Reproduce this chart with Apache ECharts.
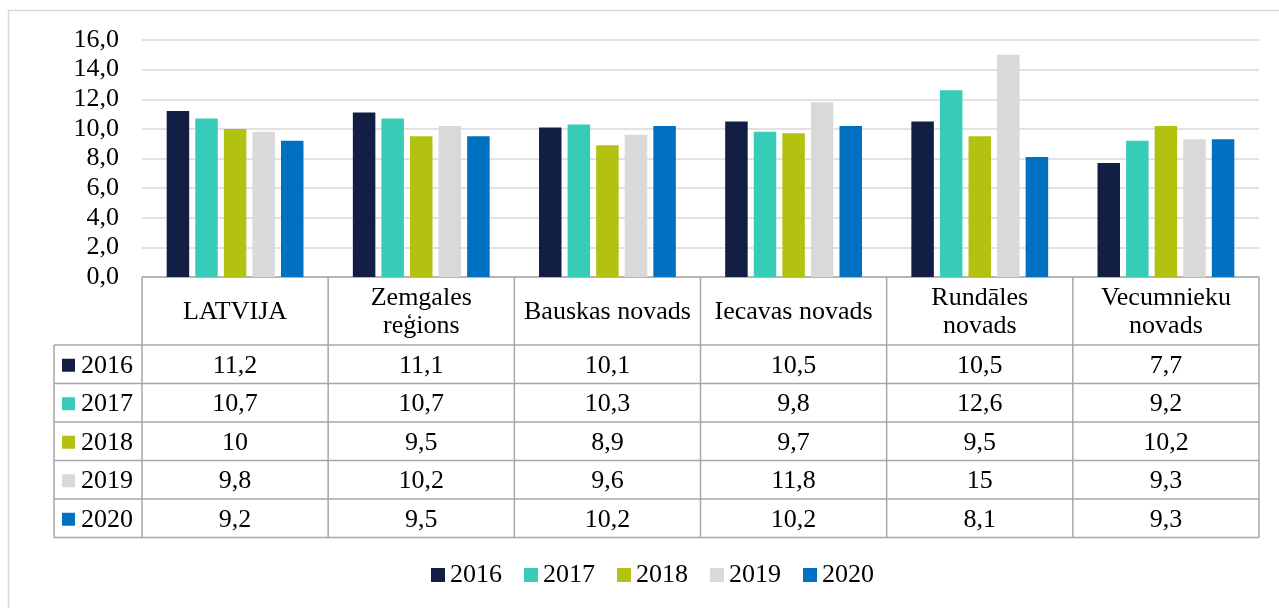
<!DOCTYPE html>
<html>
<head>
<meta charset="utf-8">
<script src="https://cdn.jsdelivr.net/npm/echarts@6/dist/echarts.min.js"></script>
<style>
  html, body { margin: 0; padding: 0; background: #fff; }
  #chart { width: 1279px; height: 608px; }
</style>
</head>
<body>
<div id="chart"></div>
<script>
// data
var categories = ['LATVIJA', 'Zemgales\nreģions', 'Bauskas novads', 'Iecavas novads', 'Rundāles\nnovads', 'Vecumnieku\nnovads']
var years = ['2016', '2017', '2018', '2019', '2020']
var v2016 = [11.2, 11.1, 10.1, 10.5, 10.5, 7.7]
var v2017 = [10.7, 10.7, 10.3, 9.8, 12.6, 9.2]
var v2018 = [10, 9.5, 8.9, 9.7, 9.5, 10.2]
var v2019 = [9.8, 10.2, 9.6, 11.8, 15, 9.3]
var v2020 = [9.2, 9.5, 10.2, 10.2, 8.1, 9.3]
var yTicks = [0, 2, 4, 6, 8, 10, 12, 14, 16]

var colors = ['#131E45', '#36CCB7', '#B3C211', '#D9D9D9', '#0070C0']
var values = [v2016, v2017, v2018, v2019, v2020]
var font = "'Liberation Serif', 'Times New Roman', serif"

var chart = echarts.init(document.getElementById('chart'))

function fmt(v) {
    return String(v).replace('.', ',')
}

var series = years.map(function (y, i) {
    return {
        name: y,
        type: 'bar',
        data: values[i],
        barWidth: 22.5,
        barGap: '27%',
        itemStyle: { color: colors[i] }
    }
})

chart.setOption({
    animation: false,
    color: colors,
    grid: { left: 142, right: 20, top: 40, bottom: 331 },
    legend: {
        data: years,
        left: 426,
        top: 557,
        itemWidth: 14,
        itemHeight: 14,
        itemGap: 22,
        icon: 'rect',
        textStyle: { fontFamily: font, fontSize: 26, color: '#000' }
    },
    xAxis: {
        type: 'category',
        data: categories,
        axisLine: { show: false },
        axisTick: { show: false },
        axisLabel: { show: false }
    },
    yAxis: {
        type: 'value',
        min: yTicks[0],
        max: yTicks[yTicks.length - 1],
        interval: 2,
        axisLabel: {
            margin: 23,
            fontFamily: font,
            fontSize: 26,
            color: '#000',
            formatter: function (v) { return v.toFixed(1).replace('.', ',') }
        },
        splitLine: { lineStyle: { color: '#D9D9D9', width: 1.5 } }
    },
    series: series
})

// data table under the chart
function drawTable() {
    var lineColor = '#A6A6A6'
    var headTop = 277, headBottom = 345, rowH = 38.5
    var tableLeft = 54
    var x0 = chart.convertToPixel({ xAxisIndex: 0 }, 0)
    var x1 = chart.convertToPixel({ xAxisIndex: 0 }, 1)
    var catW = x1 - x0
    var colLeft = x0 - catW / 2
    var colRight = colLeft + catW * categories.length
    var tableBottom = headBottom + rowH * years.length
    var els = []

    // outer frame of the whole chart
    els.push({ type: 'rect', shape: { x: 8.5, y: 10.5, width: 1290, height: 620 },
        style: { fill: null, stroke: '#D9D9D9', lineWidth: 1.5 }, silent: true })

    // horizontal lines
    els.push({ type: 'line', shape: { x1: colLeft, y1: headTop, x2: colRight, y2: headTop }, style: { stroke: lineColor, lineWidth: 1.5 } })
    for (var r = 0; r <= years.length; r++) {
        var y = headBottom + r * rowH
        els.push({ type: 'line', shape: { x1: tableLeft, y1: y, x2: colRight, y2: y }, style: { stroke: lineColor, lineWidth: 1.5 } })
    }
    // vertical lines
    els.push({ type: 'line', shape: { x1: tableLeft, y1: headBottom, x2: tableLeft, y2: tableBottom }, style: { stroke: lineColor, lineWidth: 1.5 } })
    for (var c = 0; c <= categories.length; c++) {
        var x = colLeft + c * catW
        els.push({ type: 'line', shape: { x1: x, y1: headTop, x2: x, y2: tableBottom }, style: { stroke: lineColor, lineWidth: 1.5 } })
    }

    // header text
    categories.forEach(function (name, i) {
        els.push({
            type: 'text',
            x: colLeft + (i + 0.5) * catW,
            y: (headTop + headBottom) / 2 + 1,
            style: {
                text: name, fontFamily: font, fontSize: 26, lineHeight: 28,
                fill: '#000', align: 'center', verticalAlign: 'middle'
            }
        })
    })

    // rows
    years.forEach(function (yr, r) {
        var cy = headBottom + (r + 0.5) * rowH + 1.5
        els.push({ type: 'rect', shape: { x: 62, y: cy - 7, width: 13, height: 13 }, style: { fill: colors[r] } })
        els.push({ type: 'text', x: 81, y: cy,
            style: { text: yr, fontFamily: font, fontSize: 26, fill: '#000', align: 'left', verticalAlign: 'middle' } })
        values[r].forEach(function (v, i) {
            els.push({ type: 'text', x: colLeft + (i + 0.5) * catW, y: cy,
                style: { text: fmt(v), fontFamily: font, fontSize: 26, fill: '#000', align: 'center', verticalAlign: 'middle' } })
        })
    })

    chart.setOption({ graphic: { elements: els } })
}

drawTable()
</script>
</body>
</html>
